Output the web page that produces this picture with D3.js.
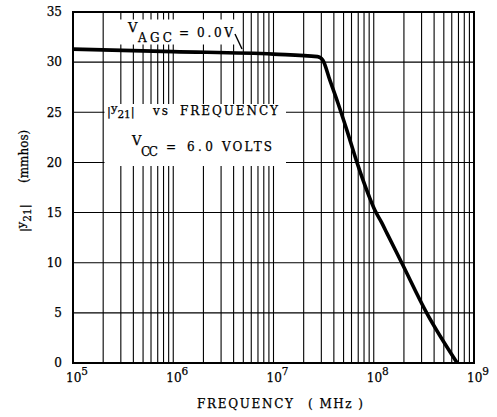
<!DOCTYPE html>
<html>
<head>
<meta charset="utf-8">
<script src="https://cdn.jsdelivr.net/npm/d3@7"></script>
<style>
  html, body { margin: 0; padding: 0; background: #fff; }
  svg { display: block; }
  text { font-family: "DejaVu Serif", serif; fill: #000; stroke: #000; stroke-width: 0.25; white-space: pre; }
</style>
</head>
<body>
<svg id="chart" width="497" height="417"></svg>
<script>
// |y21| forward transfer admittance vs frequency
const freqMHz = [1e5, 1e6, 1e7, 2.75e7, 3.1e7, 3.65e7, 4.4e7, 5.4e7, 6.8e7, 9e7, 1.03e8, 1.2e8, 1.36e8, 1.9e8, 3.37e8, 6.8e8];
const y21Mmhos = [31.3, 31.05, 30.8, 30.55, 30.2, 28.2, 25.9, 23.2, 20.0, 16.6, 15.2, 14.0, 12.9, 10.0, 5.0, 0.0];

const xDecades = [1e5, 1e6, 1e7, 1e8, 1e9];
const xExponents = ["5", "6", "7", "8", "9"];
const yTicks = [0, 5, 10, 15, 20, 25, 30, 35];

const svg = d3.select("#chart");
const plotL = 73, plotR = 474, plotT = 12, plotB = 363;

const x = d3.scaleLog().domain([1e5, 1e9]).range([plotL, plotR]);
const y = d3.scaleLinear().domain([0, 35]).range([plotB, plotT]);

// place one word from x0 to x1 on a baseline, spreading its letters to fill
function word(parent, x0, x1, base, str, size) {
  const t = parent.append("text").attr("x", x0).attr("y", base)
    .attr("font-size", size).text(str);
  const node = t.node();
  const len = node.getComputedTextLength();
  const n = str.length;
  if (n > 1) t.style("letter-spacing", ((x1 - x0 - len) / (n - 1)) + "px");
  return t;
}

// |y21| with a raised y and a lowered, smaller 21
function y21Label(parent, x0, base) {
  const t = parent.append("text").attr("x", x0).attr("y", base).attr("font-size", 11.5);
  t.append("tspan").text("|");
  t.append("tspan").attr("dy", -3).text("y");
  t.append("tspan").attr("dy", 6).attr("font-size", 10.5).text("21");
  t.append("tspan").attr("dy", -3).text("|");
  return t;
}

// grid: every 1..9 step in each decade, and every 5 units vertically
const grid = svg.append("g").attr("stroke", "#000").attr("stroke-width", 1.1);
grid.selectAll("line.v").data(x.ticks()).join("line")
  .attr("x1", d => x(d)).attr("x2", d => x(d))
  .attr("y1", plotT).attr("y2", plotB);
grid.selectAll("line.h").data(yTicks).join("line")
  .attr("x1", plotL).attr("x2", plotR)
  .attr("y1", d => y(d)).attr("y2", d => y(d));

// white panels behind the annotations
svg.append("rect").attr("x", 117).attr("y", 19.5).attr("width", 121).attr("height", 25).attr("fill", "#fff");
svg.append("rect").attr("x", 104.5).attr("y", 104).attr("width", 181.5).attr("height", 62).attr("fill", "#fff");

// frame
svg.append("rect").attr("x", plotL).attr("y", plotT)
  .attr("width", plotR - plotL).attr("height", plotB - plotT)
  .attr("fill", "none").attr("stroke", "#000").attr("stroke-width", 2);

// curve
const line = d3.line()
  .x((d, i) => x(freqMHz[i]))
  .y(d => y(d))
  .curve(d3.curveMonotoneX);
svg.append("path").datum(y21Mmhos)
  .attr("d", line)
  .attr("fill", "none").attr("stroke", "#000")
  .attr("stroke-width", 3.6).attr("stroke-linejoin", "round");

// y tick labels
svg.append("g").selectAll("text").data(yTicks).join("text")
  .attr("x", 62).attr("y", d => y(d)).attr("dy", "0.36em")
  .attr("text-anchor", "end").attr("font-size", 12)
  .text(d => d);

// x decade labels
const xl = svg.append("g").selectAll("text").data(xDecades).join("text")
  .attr("x", d => x(d) - 7).attr("y", 382).attr("font-size", 12);
xl.append("tspan").text("10");
xl.append("tspan").attr("dy", -7).attr("font-size", 10.5).text((d, i) => xExponents[i]);

// x axis title
word(svg, 197, 293, 408, "FREQUENCY", 12);
word(svg, 308, 363, 408, "( MHz )", 12);

// y axis title, rotated: distances along the axis run upward from y = 232
const yt = svg.append("g").attr("transform", "translate(28,0) rotate(-90)");
y21Label(yt, -232, 0);
yt.append("text").attr("x", -183).attr("y", 0).attr("font-size", 12).text("(mmhos)");

// V_AGC annotation with pointer to the curve
word(svg, 128, 138, 32, "V", 13);
word(svg, 138, 172, 42, "AGC", 12);
word(svg, 179, 188, 37, "=", 12);
word(svg, 197, 233, 37, "0.0V", 12);
svg.append("line").attr("x1", 235).attr("y1", 34).attr("x2", 242).attr("y2", 49)
  .attr("stroke", "#000").attr("stroke-width", 1.4);

// title panel
y21Label(svg, 107, 115);
word(svg, 153, 168, 115, "vs", 12);
word(svg, 180, 278, 115, "FREQUENCY", 12);

word(svg, 132, 141, 145, "V", 13);
word(svg, 141, 158, 156, "CC", 12);
word(svg, 166, 174, 151, "=", 12);
word(svg, 187, 213, 151, "6.0", 12);
word(svg, 222, 272, 151, "VOLTS", 12);
</script>
</body>
</html>
